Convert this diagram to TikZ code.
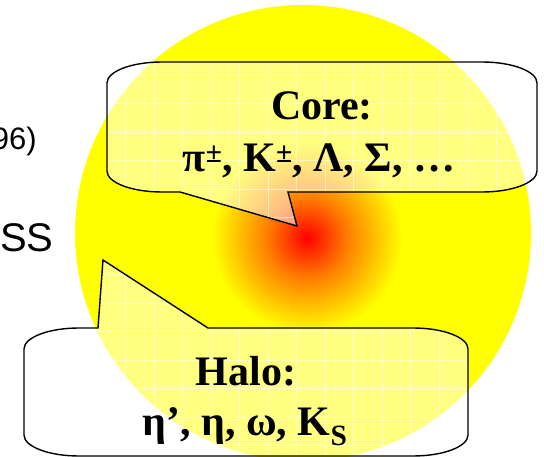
\documentclass[tikz,border=0pt]{standalone}
\usepackage{fontspec}
\setmainfont{Liberation Serif}
\newfontfamily\arialf{Liberation Sans}
\definecolor{hy}{rgb}{1,1,0}
\pgfdeclareradialshading{hotcore}{\pgfpoint{0bp}{0bp}}{rgb(0bp)=(1,0,0); rgb(6bp)=(1,0.5,0); rgb(14bp)=(1,1,0); rgb(50bp)=(1,1,0)}
\begin{document}
\begin{tikzpicture}[x=1pt,y=-1pt,
  boxfill/.style={fill=white,fill opacity=0.5},
  boxline/.style={draw=black,line width=1.4pt,line join=miter},
  gridline/.style={draw=white,line width=0.7pt,opacity=0.55},
  calltext/.style={font=\fontsize{42}{50}\selectfont\bfseries,anchor=base,inner sep=0pt},
  sidetext/.style={inner sep=0pt,text=black}]
\useasboundingbox (0,0) rectangle (544,457);
% yellow disk and hot core
\fill[hy] (303,233) coordinate (ctr) circle (228);
\begin{scope}
  \clip (303,233) circle (227);
  \shade[shading=hotcore] (307,238) coordinate (hot) circle (170);
\end{scope}
% side texts
\node[sidetext,anchor=base east,font=\arialf\fontsize{31}{36}\selectfont] (yr) at (37,150) {96)};
\node[sidetext,anchor=base west,font=\arialf\fontsize{40}{48}\selectfont] (ss) at (0,252) {SS};
% callout paths
\def\corepathX{(162,62) -- (482,62) .. controls (512.4,62) and (537,71.4) .. (537,83) -- (537,171) .. controls (537,182.6) and (512.4,192) .. (482,192) -- (288,192) -- (297,226) -- (180,192) -- (162,192) .. controls (131.6,192) and (107,182.6) .. (107,171) -- (107,83) .. controls (107,71.4) and (131.6,62) .. (162,62) -- cycle}
\def\halopathX{(79,328) -- (98,328) -- (103,260) -- (208,328) -- (413,328) .. controls (443.4,328) and (468,337.4) .. (468,349) -- (468,435) .. controls (468,446.6) and (443.4,456) .. (413,456) -- (79,456) .. controls (48.6,456) and (24,446.6) .. (24,435) -- (24,349) .. controls (24,337.4) and (48.6,328) .. (79,328) -- cycle}
% core callout
\path[boxfill] \corepathX;
\begin{scope}
  \clip \corepathX;
  \foreach \gx in {-17,11.5,...,560} {\draw[gridline] (\gx,0) -- (\gx,457);}
  \foreach \gy in {18,46.5,...,460} {\draw[gridline] (0,\gy) -- (544,\gy);}
\end{scope}
\path[boxline] \corepathX;
% halo callout
\path[boxfill] \halopathX;
\begin{scope}
  \clip \halopathX;
  \foreach \gx in {-17,11.5,...,560} {\draw[gridline] (\gx,0) -- (\gx,457);}
  \foreach \gy in {18,46.5,...,460} {\draw[gridline] (0,\gy) -- (544,\gy);}
\end{scope}
\path[boxline] \halopathX;
% texts
\node[calltext] (coreA) at (322,120) {Core:};
\node[calltext] (coreB) at (319,172) {π\textsuperscript{±}, K\textsuperscript{±}, Λ, Σ, …};
\node[calltext] (haloA) at (246,385) {Halo:};
\node[calltext] (haloB) at (245,435) {η’, η, ω, K\textsubscript{S}};
\end{tikzpicture}
\end{document}
